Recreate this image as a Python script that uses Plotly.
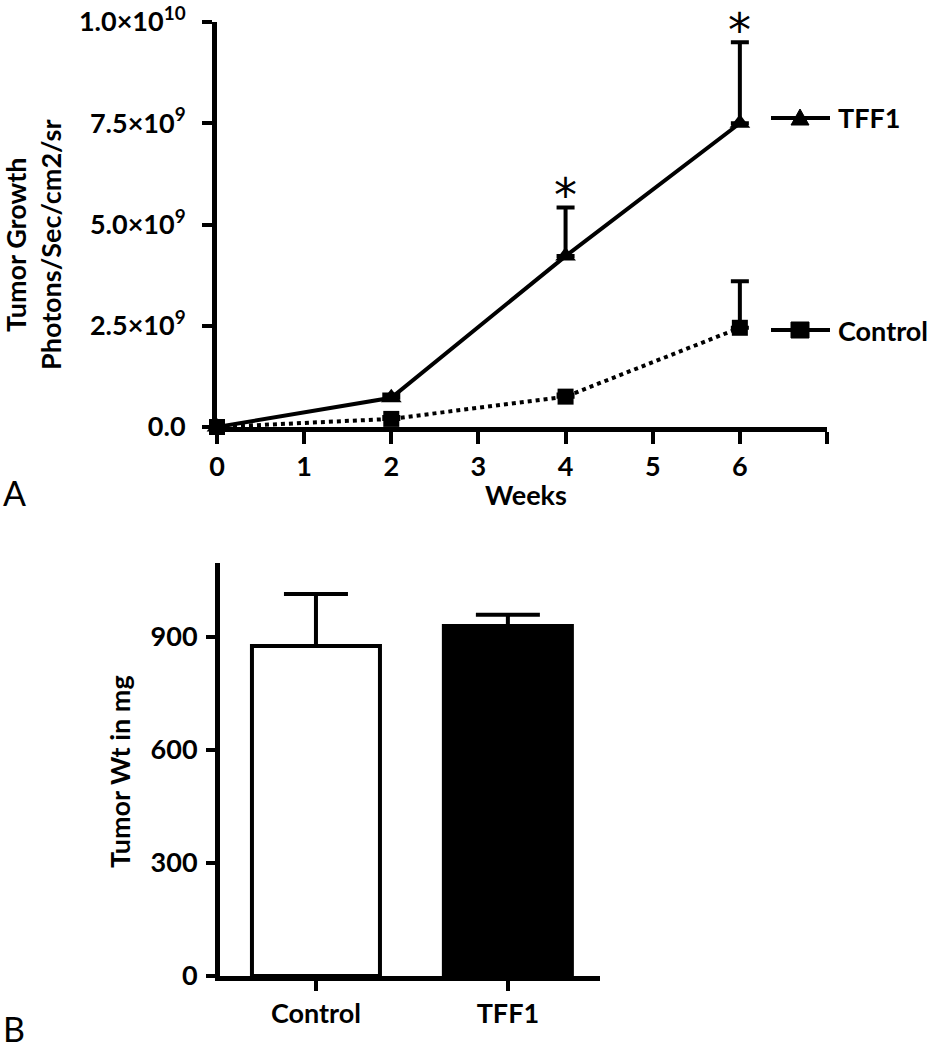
import plotly.graph_objects as go

# ---------------- data ----------------
weeks = [0, 2, 4, 6]
tff1_mean = [0.0, 0.72e9, 4.22e9, 7.5e9]
tff1_err = [0.0, 0.08e9, 1.2e9, 2.0e9]
control_mean = [0.0, 0.2e9, 0.75e9, 2.45e9]
control_err = [0.0, 0.05e9, 0.05e9, 1.15e9]
sig_index = [2, 3]  # weeks 4 and 6 marked with *

growth_tickvals = [0, 2.5e9, 5.0e9, 7.5e9, 1.0e10]
growth_ticktext = ["0.0", "2.5×10<sup>9</sup>", "5.0×10<sup>9</sup>",
                   "7.5×10<sup>9</sup>", "1.0×10<sup>10</sup>"]
week_tickvals = [0, 1, 2, 3, 4, 5, 6, 7]
week_ticktext = ["0", "1", "2", "3", "4", "5", "6", ""]

groups = ["Control", "TFF1"]
weight_mean = [876, 929]
weight_err = [138, 30]
weight_tickvals = [0, 300, 600, 900]

FONT = "Lato"
W, H = 935, 1050


def px_x(p):
    return p / W


def px_y(p):
    return 1 - p / H


fig = go.Figure()

# ---------------- panel A ----------------
fig.add_trace(go.Scatter(
    x=weeks, y=tff1_mean, name="TFF1", mode="lines+markers",
    line=dict(color="black", width=4),
    marker=dict(symbol="triangle-up", size=18, color="black"),
    error_y=dict(type="data", array=tff1_err, arrayminus=[0] * len(weeks),
                 symmetric=False, color="black", thickness=4, width=9),
    xaxis="x", yaxis="y", cliponaxis=False, showlegend=False,
))
fig.add_trace(go.Scatter(
    x=weeks, y=control_mean, name="Control", mode="lines+markers",
    line=dict(color="black", width=4, dash="dot"),
    marker=dict(symbol="square", size=16, color="black"),
    error_y=dict(type="data", array=control_err, arrayminus=[0] * len(weeks),
                 symmetric=False, color="black", thickness=4, width=9),
    xaxis="x", yaxis="y", cliponaxis=False, showlegend=False,
))

# ---------------- panel B ----------------
fig.add_trace(go.Bar(
    x=groups, y=weight_mean, width=0.667,
    marker=dict(color=["white", "black"], line=dict(color="black", width=4)),
    error_y=dict(type="data", array=weight_err, arrayminus=[0, 0],
                 symmetric=False, color="black", thickness=4, width=32),
    xaxis="x2", yaxis="y2", showlegend=False,
))

tick_font = dict(family=FONT, size=27, color="black", weight="bold")
axis_common = dict(showgrid=False, zeroline=False, showline=True,
                   linecolor="black", linewidth=5, ticks="outside",
                   tickwidth=4, tickcolor="black", tickfont=tick_font,
                   automargin=False)

fig.update_layout(
    width=W, height=H,
    margin=dict(l=0, r=0, t=0, b=0, autoexpand=False),
    paper_bgcolor="white", plot_bgcolor="white",
    font=dict(family=FONT, color="black"),
    showlegend=False,
    xaxis=dict(domain=[px_x(217), px_x(827)], range=[0, 7], anchor="y",
               ticklen=12, tickvals=week_tickvals, ticktext=week_ticktext,
               **axis_common),
    yaxis=dict(domain=[px_y(427), px_y(22)], range=[0, 1.0e10], anchor="x",
               ticklen=10, tickvals=growth_tickvals, ticktext=growth_ticktext,
               ticklabelstandoff=11, **axis_common),
    xaxis2=dict(domain=[px_x(220), px_x(600)], range=[-0.5, 1.48],
                anchor="y2", type="category", ticklen=10, **axis_common),
    yaxis2=dict(domain=[px_y(976), px_y(563)], range=[0, 1096], anchor="x2",
                ticklen=9, tickvals=weight_tickvals, ticklabelstandoff=3,
                **axis_common),
)

# ---------------- legend keys (drawn beside line ends) ----------------
legend_font = dict(family=FONT, size=27, color="black", weight="bold")
shapes = []
legend_items = [
    ("TFF1", 118, "triangle"),
    ("Control", 330, "square"),
]
for label, ypix, sym in legend_items:
    shapes.append(dict(type="line", xref="paper", yref="paper",
                       x0=px_x(771), x1=px_x(830), y0=px_y(ypix), y1=px_y(ypix),
                       line=dict(color="black", width=4)))
    if sym == "triangle":
        path = "M -9,-7 L 9,-7 L 0,9 Z"
    else:
        path = "M -9,-8 L 9,-8 L 9,8 L -9,8 Z"
    shapes.append(dict(type="path", xref="paper", yref="paper",
                       xsizemode="pixel", ysizemode="pixel",
                       xanchor=px_x(800), yanchor=px_y(ypix), path=path,
                       fillcolor="black", line=dict(color="black", width=1)))

annotations = []
for label, ypix, sym in legend_items:
    annotations.append(dict(x=px_x(836), y=px_y(ypix), xref="paper",
                            yref="paper", text=label, showarrow=False,
                            xanchor="left", yanchor="middle", font=legend_font))

for i in sig_index:
    annotations.append(dict(
        x=weeks[i], y=tff1_mean[i] + tff1_err[i], xref="x", yref="y",
        text="*", showarrow=False, yanchor="middle", yshift=12,
        font=dict(family="DejaVu Sans", size=46, color="black"),
    ))
annotations += [
    dict(x=px_x(33), y=px_y(245), xref="paper", yref="paper",
         text="Tumor Growth<br>Photons/Sec/cm2/sr", textangle=-90,
         showarrow=False, xanchor="center", yanchor="middle",
         font=dict(family=FONT, size=27, color="black", weight="bold")),
    dict(x=px_x(526), y=px_y(494), xref="paper", yref="paper",
         text="Weeks", showarrow=False, xanchor="center", yanchor="middle",
         font=dict(family=FONT, size=27, color="black", weight="bold")),
    dict(x=px_x(119), y=px_y(771), xref="paper", yref="paper",
         text="Tumor Wt in mg", textangle=-90,
         showarrow=False, xanchor="center", yanchor="middle",
         font=dict(family=FONT, size=27, color="black", weight="bold")),
    dict(x=px_x(1), y=px_y(493), xref="paper", yref="paper",
         text="A", showarrow=False, xanchor="left", yanchor="middle",
         font=dict(family=FONT, size=34, color="black")),
    dict(x=px_x(1), y=px_y(1028), xref="paper", yref="paper",
         text="B", showarrow=False, xanchor="left", yanchor="middle",
         font=dict(family=FONT, size=34, color="black")),
]
fig.update_layout(annotations=annotations, shapes=shapes)

fig.write_html("out.html",
               config={"displayModeBar": False},
               post_script="document.body.style.margin='0';"
                           "document.body.style.overflow='hidden';")
